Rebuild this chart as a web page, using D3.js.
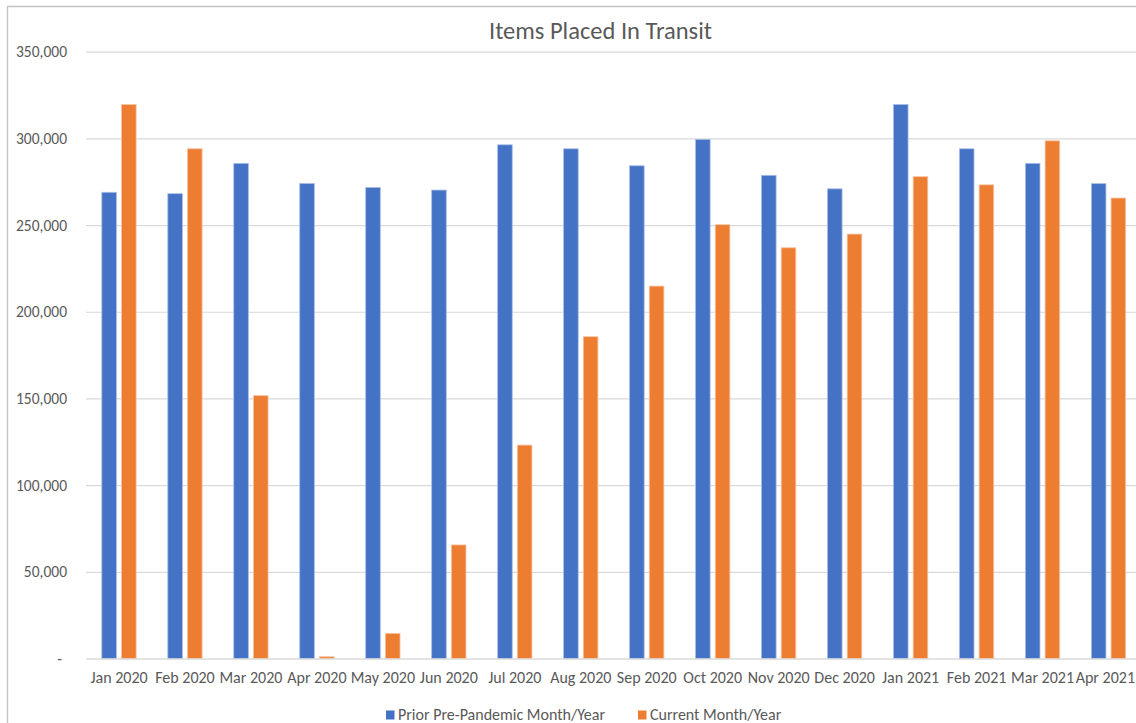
<!DOCTYPE html>
<html>
<head>
<meta charset="utf-8">
<script src="https://cdn.jsdelivr.net/npm/d3@7"></script>
<style>
  html, body { margin: 0; padding: 0; background: #fff; }
  svg { display: block; font-family: Calibri, Carlito, "Open Sans", sans-serif; }
</style>
</head>
<body>
<svg id="chart" width="1136" height="723"></svg>
<script>
// Monthly items placed in transit
const months = ["Jan 2020", "Feb 2020", "Mar 2020", "Apr 2020", "May 2020", "Jun 2020",
  "Jul 2020", "Aug 2020", "Sep 2020", "Oct 2020", "Nov 2020", "Dec 2020",
  "Jan 2021", "Feb 2021", "Mar 2021", "Apr 2021"];
const seriesNames = ["Prior Pre-Pandemic Month/Year", "Current Month/Year"];
const priorValues = [268900, 268100, 285600, 274000, 271700, 270200,
  296300, 294000, 284200, 299400, 278700, 270900,
  319500, 294000, 285600, 273900];
const currentValues = [319500, 294000, 151600, 1000, 14500, 65500,
  123100, 185600, 214800, 250200, 236900, 244800,
  277900, 273200, 298600, 265600];
const yTicks = [0, 50000, 100000, 150000, 200000, 250000, 300000, 350000];
const seriesColors = ["#4472C4", "#ED7D31"];

const W = 1136, H = 723;
const plot = { left: 86, right: 1141.5, top: 51.7, bottom: 658.5 };
const textColor = "#595959";
const gridColor = "#d9d9d9";
const fontStack = 'Calibri, Carlito, "Open Sans", sans-serif';

const svg = d3.select("#chart");

// frame edges
svg.append("line").attr("x1", 7).attr("x2", W).attr("y1", 6.5).attr("y2", 6.5)
  .attr("stroke", "#c4c4c4").attr("stroke-width", 1.4);
svg.append("line").attr("x1", 7.5).attr("x2", 7.5).attr("y1", 6).attr("y2", H)
  .attr("stroke", "#c4c4c4").attr("stroke-width", 1.4);

const y = d3.scaleLinear().domain([0, 350000]).range([plot.bottom, plot.top]);
const x0 = d3.scaleBand().domain(months).range([plot.left, plot.right])
  .paddingInner(0.48).paddingOuter(0.24);
const x1 = d3.scaleBand().domain(seriesNames).range([0, x0.bandwidth()]).paddingInner(0.26);

// y axis with gridlines
const yAxis = svg.append("g")
  .attr("transform", `translate(${plot.left},0)`)
  .call(d3.axisLeft(y).tickValues(yTicks)
    .tickSize(-(W - plot.left))
    .tickPadding(19)
    .tickFormat(d => d === 0 ? "-" : d3.format(",")(d)))
  .attr("font-family", fontStack)
  .attr("font-size", 15.5);
yAxis.select(".domain").remove();
yAxis.selectAll(".tick line").attr("stroke", gridColor).attr("stroke-width", 1.2);
yAxis.selectAll(".tick text")
  .attr("fill", textColor)
  .attr("dx", d => d === 0 ? -5 : 0);

// bars
const rows = months.map((m, i) => ({ month: m, values: [priorValues[i], currentValues[i]] }));
const groups = svg.append("g").selectAll("g").data(rows).join("g")
  .attr("transform", d => `translate(${x0(d.month)},0)`);
groups.selectAll("rect")
  .data(d => d.values.map((v, k) => ({ key: seriesNames[k], value: v, k })))
  .join("rect")
  .attr("x", d => x1(d.key))
  .attr("width", x1.bandwidth())
  .attr("y", d => y(d.value))
  .attr("height", d => y(0) - y(d.value))
  .attr("fill", d => seriesColors[d.k])
  .attr("stroke", d => d.k === 0 ? "#a9bde6" : "#f6c3a2")
  .attr("stroke-width", 0.8);

// x axis (category labels and baseline)
const xAxis = svg.append("g")
  .attr("transform", `translate(0,${plot.bottom})`)
  .call(d3.axisBottom(x0).tickSize(0).tickSizeOuter(0).tickPadding(13.5))
  .attr("font-family", fontStack)
  .attr("font-size", 16);
xAxis.select(".domain").attr("stroke", gridColor).attr("stroke-width", 1.2);
xAxis.selectAll(".tick text").attr("fill", textColor);
// keep the last category label inside the canvas
xAxis.selectAll(".tick text").filter(d => d === months[months.length - 1])
  .each(function () {
    const box = this.getBBox();
    const tick = this.parentNode.transform.baseVal.consolidate().matrix.e;
    const overflow = tick + box.x + box.width - (W - 1);
    if (overflow > 0) d3.select(this).attr("dx", -overflow);
  });

// title
svg.append("text")
  .attr("x", 600.5).attr("y", 38.5)
  .attr("text-anchor", "middle")
  .attr("fill", textColor)
  .attr("font-size", 24.5)
  .text("Items Placed In Transit");

// legend
const legendItems = [
  { name: seriesNames[0], color: seriesColors[0], x: 386 },
  { name: seriesNames[1], color: seriesColors[1], x: 638 }
];
const legend = svg.append("g");
legendItems.forEach(item => {
  legend.append("rect").attr("x", item.x).attr("y", 710.5)
    .attr("width", 8.5).attr("height", 9).attr("fill", item.color);
  legend.append("text").attr("x", item.x + 12).attr("y", 720)
    .attr("fill", textColor).attr("font-size", 16).text(item.name);
});
</script>
</body>
</html>
